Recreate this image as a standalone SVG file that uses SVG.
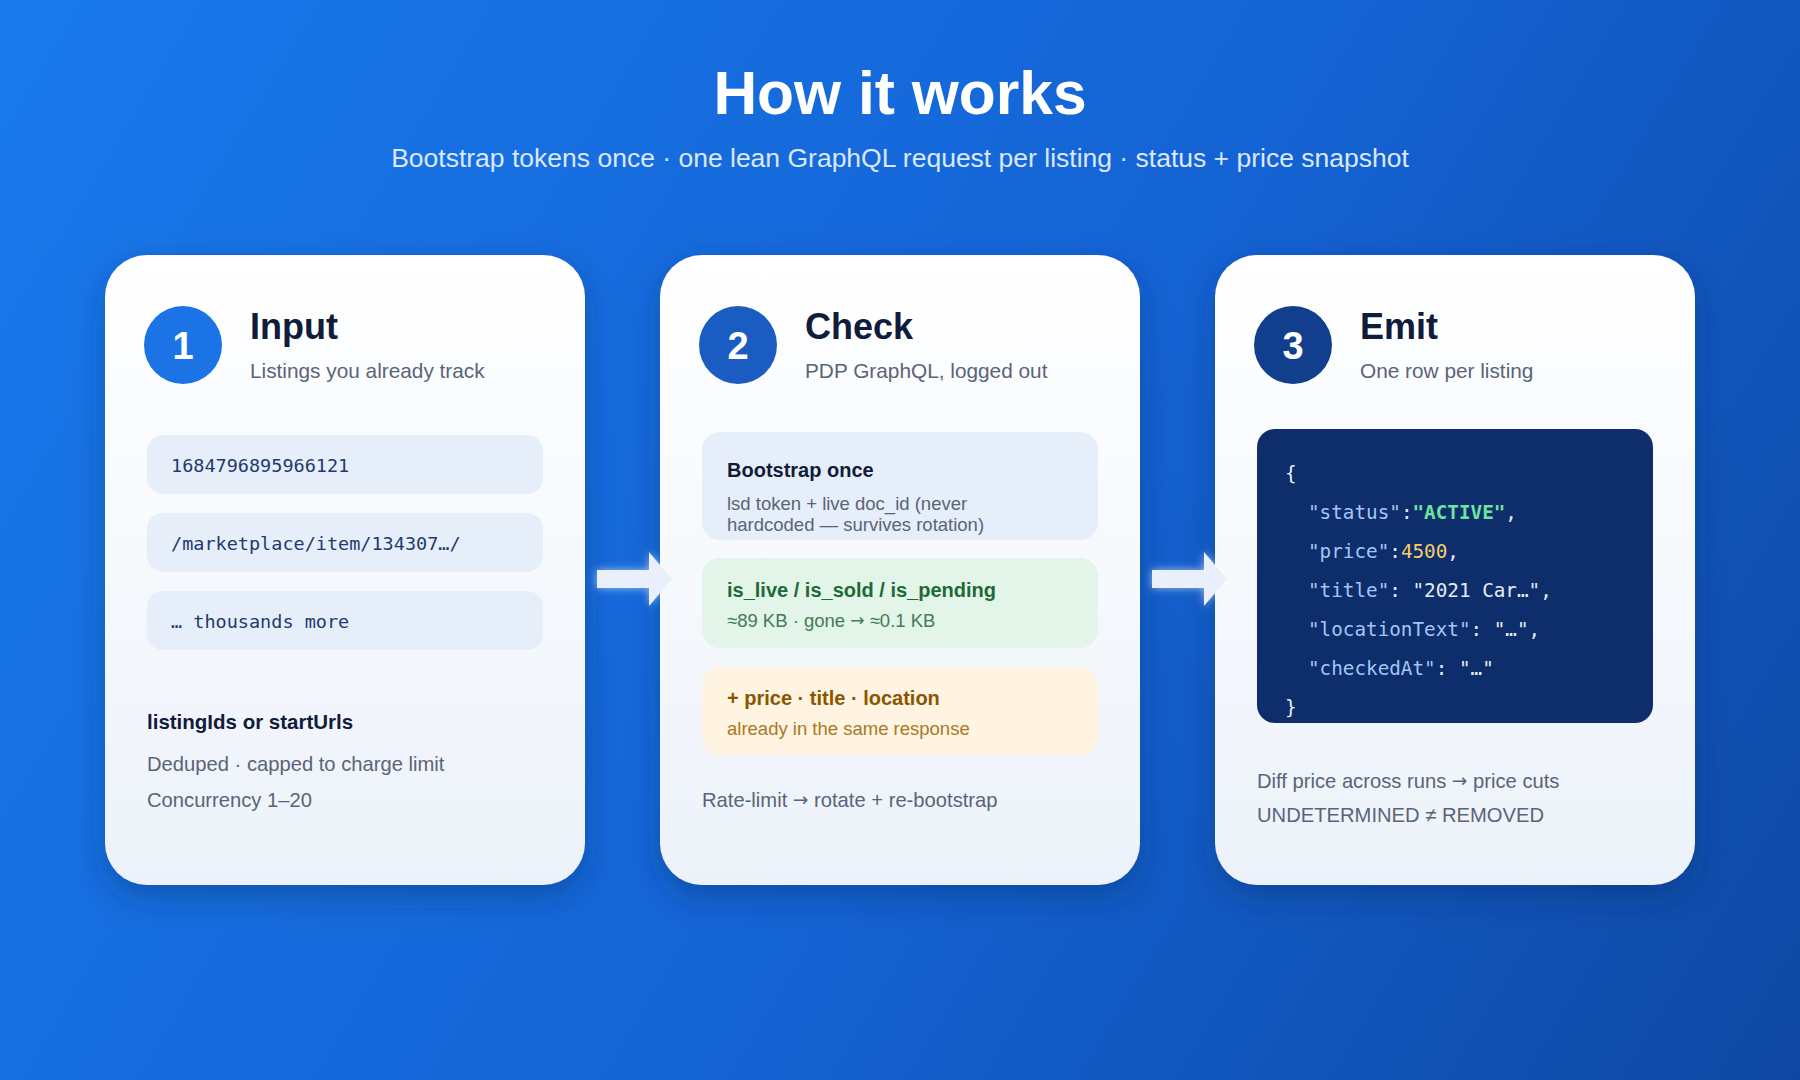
<svg xmlns="http://www.w3.org/2000/svg" width="1800" height="1080" viewBox="0 0 1800 1080">
<defs>
<linearGradient id="bg" x1="0" y1="0" x2="1800" y2="1080" gradientUnits="userSpaceOnUse">
<stop offset="0" stop-color="#1979eb"/>
<stop offset="0.55" stop-color="#1463d4"/>
<stop offset="1" stop-color="#0e48a3"/>
</linearGradient>
<linearGradient id="card" x1="0" y1="0" x2="0" y2="1">
<stop offset="0" stop-color="#ffffff"/>
<stop offset="1" stop-color="#edf2fa"/>
</linearGradient>
<filter id="shadow" x="-20%" y="-20%" width="140%" height="140%">
<feDropShadow dx="0" dy="12" stdDeviation="16" flood-color="#06255e" flood-opacity="0.35"/>
</filter>
<filter id="glow" x="-30%" y="-50%" width="160%" height="200%">
<feDropShadow dx="0" dy="0" stdDeviation="4" flood-color="#ffffff" flood-opacity="0.6"/>
</filter>
</defs>
<style>
.sans{font-family:"Liberation Sans",Arial,Helvetica,sans-serif}
.mono{font-family:"DejaVu Sans Mono","Liberation Mono",monospace}
.ar{font-family:"DejaVu Sans",sans-serif;font-size:0.92em}
.h1{font-size:60.5px;font-weight:700;fill:#ffffff}
.sub{font-size:26.5px;fill:#dbe8ff}
.cardbg{fill:url(#card);filter:url(#shadow)}
.num{font-size:38px;font-weight:700;fill:#ffffff}
.title{font-size:36px;font-weight:700;fill:#111c3b}
.subt{font-size:20.8px;fill:#5a6478}
.pill{fill:#e6eefa}
.pilltxt{font-size:18.5px;fill:#1e3a6e}
.bold{font-size:20.5px;font-weight:700;fill:#111c3b}
.body{font-size:20.2px;fill:#5a6478}
.bxh{font-size:20px;font-weight:700}
.bxs{font-size:18.5px}
.code{font-size:19.3px;fill:#e6ecf7}
.key{fill:#a3c6f6}
.str{fill:#6ee3a0;font-weight:700}
.numv{fill:#f5cd6b}
.arrow{fill:#e9f0fc}
</style>
<rect x="0" y="0" width="1800" height="1080" fill="url(#bg)"/>
<text class="sans h1" x="900" y="114" text-anchor="middle">How it works</text>
<text class="sans sub" x="900" y="167" text-anchor="middle">Bootstrap tokens once · one lean GraphQL request per listing · status + price snapshot</text>

<g id="node-input">
<rect class="cardbg" x="105" y="255" width="480" height="630" rx="42"/>
<circle cx="183" cy="345" r="39" fill="#1b73e6"/>
<text class="sans num" x="183" y="359" text-anchor="middle">1</text>
<text class="sans title" x="250" y="339">Input</text>
<text class="sans subt" x="250" y="378">Listings you already track</text>
<rect class="pill" x="147" y="435" width="396" height="59" rx="16"/>
<text class="mono pilltxt" x="171" y="472">1684796895966121</text>
<rect class="pill" x="147" y="513" width="396" height="59" rx="16"/>
<text class="mono pilltxt" x="171" y="550">/marketplace/item/134307…/</text>
<rect class="pill" x="147" y="591" width="396" height="59" rx="16"/>
<text class="mono pilltxt" x="171" y="628">… thousands more</text>
<text class="sans bold" x="147" y="729">listingIds or startUrls</text>
<text class="sans body" x="147" y="771">Deduped · capped to charge limit</text>
<text class="sans body" x="147" y="807">Concurrency 1–20</text>
</g>

<g id="node-check">
<rect class="cardbg" x="660" y="255" width="480" height="630" rx="42"/>
<circle cx="738" cy="345" r="39" fill="#1a5cc2"/>
<text class="sans num" x="738" y="359" text-anchor="middle">2</text>
<text class="sans title" x="805" y="339">Check</text>
<text class="sans subt" x="805" y="378">PDP GraphQL, logged out</text>
<rect x="702" y="432" width="396" height="108" rx="18" fill="#e6eefa"/>
<text class="sans bxh" x="727" y="477" fill="#111c3b">Bootstrap once</text>
<text class="sans bxs" x="727" y="510" fill="#5a6478">lsd token + live doc_id (never</text>
<text class="sans bxs" x="727" y="531" fill="#5a6478">hardcoded — survives rotation)</text>
<rect x="702" y="558" width="396" height="90" rx="18" fill="#e3f4e8"/>
<text class="sans bxh" x="727" y="597" fill="#1d6a36">is_live / is_sold / is_pending</text>
<text class="sans bxs" x="727" y="627" fill="#437a58">≈89 KB · gone <tspan class="ar" baseline-shift="1">→</tspan> ≈0.1 KB</text>
<rect x="702" y="667" width="396" height="88" rx="18" fill="#fff3e1"/>
<text class="sans bxh" x="727" y="705" fill="#8a5700">+ price · title · location</text>
<text class="sans bxs" x="727" y="735" fill="#a77a26">already in the same response</text>
<text class="sans body" x="702" y="807">Rate-limit <tspan class="ar" baseline-shift="1">→</tspan> rotate + re-bootstrap</text>
</g>

<g id="node-emit">
<rect class="cardbg" x="1215" y="255" width="480" height="630" rx="42"/>
<circle cx="1293" cy="345" r="39" fill="#113f8d"/>
<text class="sans num" x="1293" y="359" text-anchor="middle">3</text>
<text class="sans title" x="1360" y="339">Emit</text>
<text class="sans subt" x="1360" y="378">One row per listing</text>
<rect x="1257" y="429" width="396" height="294" rx="18" fill="#0e2d6b"/>
<text class="mono code" x="1285" y="480">{</text>
<text class="mono code" x="1308" y="519"><tspan class="key">"status"</tspan>:<tspan class="str">"ACTIVE"</tspan>,</text>
<text class="mono code" x="1308" y="558"><tspan class="key">"price"</tspan>:<tspan class="numv">4500</tspan>,</text>
<text class="mono code" x="1308" y="597"><tspan class="key">"title"</tspan>: "2021 Car…",</text>
<text class="mono code" x="1308" y="636"><tspan class="key">"locationText"</tspan>: "…",</text>
<text class="mono code" x="1308" y="675"><tspan class="key">"checkedAt"</tspan>: "…"</text>
<text class="mono code" x="1285" y="714">}</text>
<text class="sans body" x="1257" y="788">Diff price across runs <tspan class="ar" baseline-shift="1">→</tspan> price cuts</text>
<text class="sans body" x="1257" y="822">UNDETERMINED ≠ REMOVED</text>
</g>

<g id="connectors">
<polygon class="arrow" filter="url(#glow)" points="597,570 649,570 649,552 672,579 649,606 649,588 597,588"/>
<polygon class="arrow" filter="url(#glow)" points="1152,570 1204,570 1204,552 1227,579 1204,606 1204,588 1152,588"/>
</g>
</svg>
